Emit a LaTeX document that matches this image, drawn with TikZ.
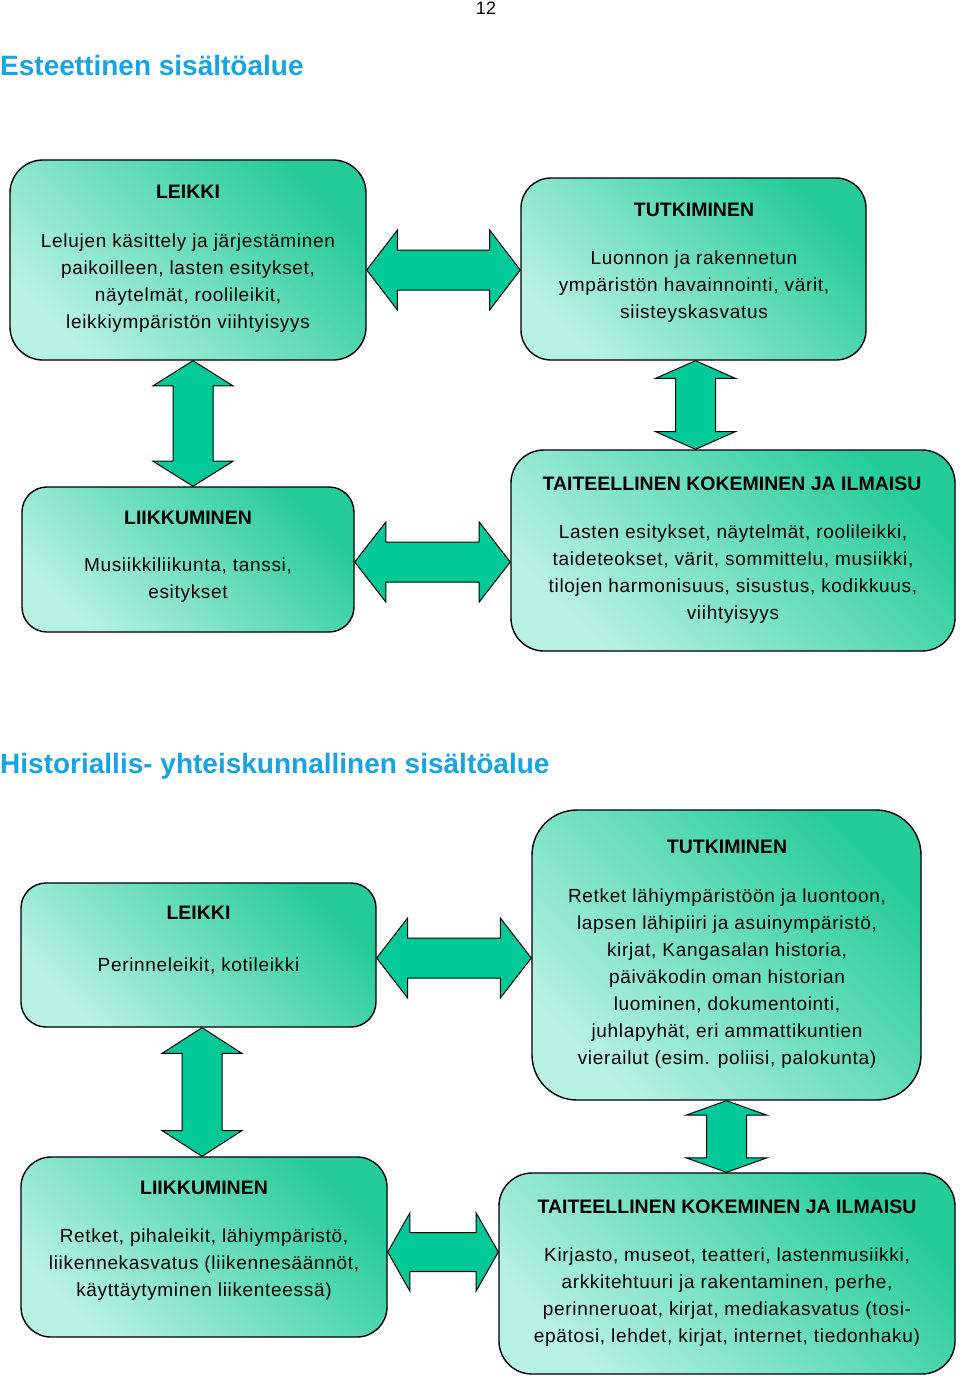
\documentclass[tikz,border=0pt]{standalone}
\usepackage{fontspec}
\setmainfont{Liberation Sans}
\newfontfamily\bodyfont{Liberation Sans}[LetterSpace=3.6]
\usetikzlibrary{calc}
\definecolor{boxdark}{RGB}{38,204,152}
\definecolor{boxlight}{RGB}{184,242,226}
\definecolor{arrowgreen}{RGB}{0,200,150}
\definecolor{headblue}{RGB}{24,164,226}
\tikzset{
  box/.style={draw=black, line width=1.4pt, top color=boxdark, bottom color=boxlight, shading angle=-45, inner sep=0pt},
  boxtitle/.style={font=\fontsize{19.5}{24}\selectfont\bfseries, anchor=base, inner sep=0pt},
  boxbody/.style={font=\fontsize{19}{27}\selectfont\bodyfont, align=center, inner sep=0pt},
  blockarrow/.style={draw=black, line width=1pt, fill=arrowgreen, line join=miter},
  heading/.style={font=\fontsize{28}{32}\selectfont\bfseries, text=headblue, anchor=base west, inner sep=0pt},
  pagenum/.style={font=\fontsize{18}{20}\selectfont, inner sep=0pt},
}
\newcommand\harrow[4]{%
  \coordinate (hL) at (#1.east |- #3);
  \coordinate (hR) at (#2.west |- #3);
  \draw[blockarrow] (hL) -- ($(hL)!0.2!(hR)+(0,-#4)$) -- ($(hL)!0.2!(hR)+(0,-#4/2)$)
    -- ($(hR)!0.2!(hL)+(0,-#4/2)$) -- ($(hR)!0.2!(hL)+(0,-#4)$) -- (hR)
    -- ($(hR)!0.2!(hL)+(0,#4)$) -- ($(hR)!0.2!(hL)+(0,#4/2)$)
    -- ($(hL)!0.2!(hR)+(0,#4/2)$) -- ($(hL)!0.2!(hR)+(0,#4)$) -- cycle;
}
\newcommand\varrow[4]{%
  \coordinate (vT) at (#3 |- #1.south);
  \coordinate (vB) at (#3 |- #2.north);
  \draw[blockarrow] (vT) -- ($(vT)!0.2!(vB)+(#4,0)$) -- ($(vT)!0.2!(vB)+(#4/2,0)$)
    -- ($(vB)!0.2!(vT)+(#4/2,0)$) -- ($(vB)!0.2!(vT)+(#4,0)$) -- (vB)
    -- ($(vB)!0.2!(vT)+(-#4,0)$) -- ($(vB)!0.2!(vT)+(-#4/2,0)$)
    -- ($(vT)!0.2!(vB)+(-#4/2,0)$) -- ($(vT)!0.2!(vB)+(-#4,0)$) -- cycle;
}
\begin{document}
\begin{tikzpicture}[x=1pt, y=-1pt]
\useasboundingbox (0,0) rectangle (960,1379);
\node[pagenum] (pg) at (486,8) {12};
\node[heading] (h1) at (0,75) {Esteettinen sisältöalue};
\node[heading] (h2) at (0,773) {Historiallis- yhteiskunnallinen sisältöalue};

% boxes
\node[box, minimum width=356pt, minimum height=200pt, rounded corners=33pt] (b1) at (188,260) {};
\node[box, minimum width=345pt, minimum height=182pt, rounded corners=30pt] (b2) at (693.5,269) {};
\node[box, minimum width=332pt, minimum height=145pt, rounded corners=25pt] (b3) at (188,559.5) {};
\node[box, minimum width=444pt, minimum height=201pt, rounded corners=33pt] (b4) at (733,550.5) {};
\node[box, minimum width=355pt, minimum height=144pt, rounded corners=25pt] (b5) at (198.5,955) {};
\node[box, minimum width=389pt, minimum height=290pt, rounded corners=45pt] (b6) at (726.5,955) {};
\node[box, minimum width=366pt, minimum height=180pt, rounded corners=30pt] (b7) at (204,1247) {};
\node[box, minimum width=456pt, minimum height=201pt, rounded corners=33pt] (b8) at (727,1273.5) {};

% titles
\node[boxtitle] (t1) at (188,198) {LEIKKI};
\node[boxtitle] (t2) at (694,216) {TUTKIMINEN};
\node[boxtitle] (t3) at (188,524) {LIIKKUMINEN};
\node[boxtitle] (t4) at (732,490) {TAITEELLINEN KOKEMINEN JA ILMAISU};
\node[boxtitle] (t5) at (198.5,919) {LEIKKI};
\node[boxtitle] (t6) at (727,853) {TUTKIMINEN};
\node[boxtitle] (t7) at (204,1194) {LIIKKUMINEN};
\node[boxtitle] (t8) at (727,1213) {TAITEELLINEN KOKEMINEN JA ILMAISU};

% bodies
\node[boxbody] (d1) at (188,283.5) {Lelujen käsittely ja järjestäminen\\paikoilleen, lasten esitykset,\\näytelmät, roolileikit,\\leikkiympäristön viihtyisyys};
\node[boxbody] (d2) at (694,287) {Luonnon ja rakennetun\\ympäristön havainnointi, värit,\\siisteyskasvatus};
\node[boxbody] (d3) at (188,580.5) {Musiikkiliikunta, tanssi,\\esitykset};
\node[boxbody] (d4) at (733,574) {Lasten esitykset, näytelmät, roolileikki,\\taideteokset, värit, sommittelu, musiikki,\\tilojen harmonisuus, sisustus, kodikkuus,\\viihtyisyys};
\node[boxbody] (d5) at (198.5,966) {Perinneleikit, kotileikki};
\node[boxbody] (d6) at (727,978.5) {Retket lähiympäristöön ja luontoon,\\lapsen lähipiiri ja asuinympäristö,\\kirjat, Kangasalan historia,\\päiväkodin oman historian\\luominen, dokumentointi,\\juhlapyhät, eri ammattikuntien\\vierailut (esim. poliisi, palokunta)};
\node[boxbody] (d7) at (204,1265) {Retket, pihaleikit, lähiympäristö,\\liikennekasvatus (liikennesäännöt,\\käyttäytyminen liikenteessä)};
\node[boxbody] (d8) at (727,1297.5) {Kirjasto, museot, teatteri, lastenmusiikki,\\arkkitehtuuri ja rakentaminen, perhe,\\perinneruoat, kirjat, mediakasvatus (tosi-\\epätosi, lehdet, kirjat, internet, tiedonhaku)};

% arrow reference coordinates
\coordinate (ya1) at (0,270);
\coordinate (ya2) at (0,562);
\coordinate (ya3) at (0,958);
\coordinate (ya4) at (0,1252);
\coordinate (xv1) at (193,0);
\coordinate (xv2) at (695.5,0);
\coordinate (xv3) at (202,0);
\coordinate (xv4) at (726.5,0);

\harrow{b1}{b2}{ya1}{40}
\harrow{b3}{b4}{ya2}{40}
\harrow{b5}{b6}{ya3}{40}
\harrow{b7}{b8}{ya4}{39}
\varrow{b1}{b3}{xv1}{40}
\varrow{b2}{b4}{xv2}{40}
\varrow{b5}{b7}{xv3}{40}
\varrow{b6}{b8}{xv4}{40}
\end{tikzpicture}
\end{document}
